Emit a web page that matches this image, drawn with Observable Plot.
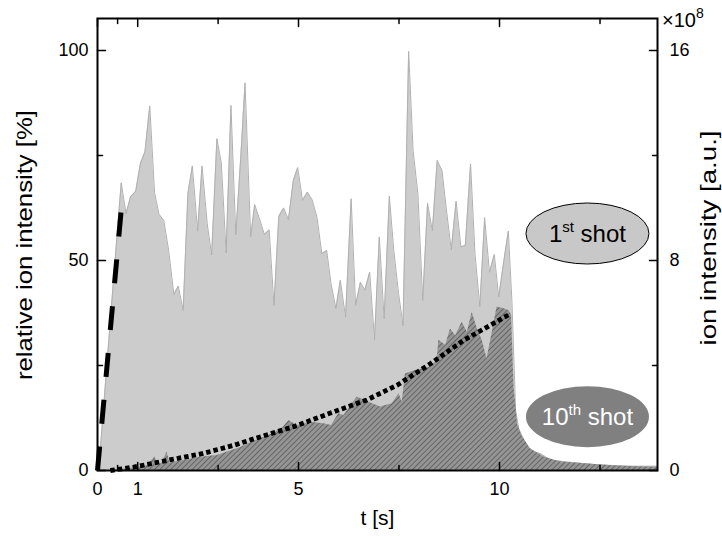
<!DOCTYPE html>
<html><head><meta charset="utf-8">
<script src="https://cdn.jsdelivr.net/npm/d3@7"></script>
<script src="https://cdn.jsdelivr.net/npm/@observablehq/plot@0.6"></script>
<style>body{margin:0;background:#fff}#chart{width:722px;height:536px}</style>
</head><body><div id="chart"></div>
<script>
// ---- data ----
const shot1T = [0, 0.07, 0.33, 0.59, 0.71, 0.82, 0.95, 1.07, 1.18, 1.30, 1.42, 1.53, 1.65, 1.77, 1.90, 2.01, 2.13, 2.25, 2.36, 2.49, 2.60, 2.73, 2.84, 2.97, 3.08, 3.20, 3.32, 3.44, 3.56, 3.67, 3.81, 3.91, 4.03, 4.15, 4.27, 4.39, 4.51, 4.63, 4.75, 4.87, 4.98, 5.10, 5.22, 5.34, 5.46, 5.58, 5.70, 5.81, 5.93, 6.04, 6.17, 6.31, 6.42, 6.54, 6.65, 6.77, 6.89, 7.01, 7.13, 7.26, 7.37, 7.49, 7.60, 7.74, 7.85, 7.97, 8.09, 8.21, 8.33, 8.45, 8.57, 8.68, 8.80, 8.92, 9.04, 9.15, 9.28, 9.39, 9.51, 9.63, 9.75, 9.87, 9.98, 10.11, 10.22, 10.31, 10.40, 10.48, 10.69, 10.85, 11.02, 11.27, 11.68, 12.5, 13.3, 13.93];
const shot1V = [0, 5, 37, 68.5, 61.1, 65.1, 66.5, 73.2, 75.8, 86.8, 66.1, 61.0, 59.5, 52.4, 41.9, 43.9, 38.1, 66.0, 72.5, 57.0, 72.5, 58.7, 51.3, 79.0, 73.2, 51.8, 86.9, 56.1, 74, 92.3, 55.6, 63.3, 59.9, 56.2, 57.3, 39.3, 60.5, 62.5, 59.7, 69.0, 72.1, 64.3, 66.3, 64.4, 60.3, 51.6, 52.4, 44.4, 38.6, 45.3, 36.5, 64.7, 39.3, 44.8, 42.9, 47.2, 31.1, 55.6, 36.1, 65.3, 52.4, 42.1, 34.5, 99.8, 76.2, 65.9, 40.5, 63.6, 57.0, 73.8, 71.4, 62, 52.5, 64.1, 53.2, 53.6, 73.0, 51.6, 39.0, 60.2, 47.2, 51.4, 41.3, 50.0, 57.0, 40, 14.3, 9.9, 5.6, 4.5, 4.0, 2.5, 2.0, 1.3, 1.0, 1.0];

const shot10T = [0.40, 0.8, 1.0, 1.25, 1.43, 1.50, 1.60, 1.73, 1.80, 2.2, 2.6, 2.98, 3.56, 3.9, 4.3, 4.6, 4.76, 4.97, 5.3, 5.63, 5.82, 6.0, 6.13, 6.46, 6.63, 7.04, 7.33, 7.50, 7.58, 7.66, 7.91, 8.12, 8.28, 8.45, 8.49, 8.66, 8.78, 8.91, 9.07, 9.20, 9.32, 9.45, 9.57, 9.69, 9.82, 9.94, 10.11, 10.23, 10.30, 10.36, 10.45, 10.56, 10.77, 11.1, 11.52, 12.1, 13.0, 13.93];
const shot10V = [0, 0.5, 0.8, 1.2, 3.3, 1.5, 1.6, 4.4, 1.8, 2.5, 3.2, 3.6, 5.5, 7.0, 8.5, 10, 11.9, 10.7, 11.5, 11.1, 10.7, 13.5, 13.1, 17.5, 16.7, 15.1, 15.9, 18.3, 16.3, 23.0, 23.8, 24.2, 24.6, 26.2, 31.0, 29.8, 33.7, 32.1, 35.3, 32.9, 37.7, 33.7, 31.0, 26.6, 32.9, 38.9, 38.5, 38.1, 37, 20, 11, 8.2, 5.2, 3.2, 2.0, 1.6, 1.0, 0.7];

const dashT = [0, 0.59];
const dashV = [0, 62];

const dotT = [0.32, 0.9, 1.73, 2.6, 3.39, 3.81, 4.9, 6.0, 6.7, 7.45, 8.28, 9.11, 10.27];
const dotV = [0, 0.8, 2.4, 4.0, 6.0, 7.3, 10.5, 14.4, 16.8, 20.3, 25.4, 31.0, 37.3];

const xMajorTicks = [0, 1, 5, 10];
const xMinorTicks = [0.5, 3, 7.5, 12.5];
const yMajorTicks = [0, 50, 100];
const yMinorTicks = [25, 75];
const rightTickLabels = ["0", "8", "16"];
const rightExponent = "8";
const legendBase = ["1", "10"];
const legendSup = ["st", "th"];
const legendRest = [" shot", " shot"];
const xTitle = "t [s]";
const yTitle = "relative ion intensity [%]";
const y2Title = "ion intensity [a.u.]";

// ---- tables ----
const shot1 = shot1T.map((t, i) => ({t, v: shot1V[i]}));
const shot10 = shot10T.map((t, i) => ({t, v: shot10V[i]}));
const dashed = dashT.map((t, i) => ({t, v: dashV[i]}));
const dotted = dotT.map((t, i) => ({t, v: dotV[i]}));

const font = "'Liberation Sans', Arial, sans-serif";
const tickShape = {draw(ctx, l) { ctx.moveTo(0, 0); ctx.lineTo(0, -l); }};
const tk = (data, frameAnchor, rotate, length, ch) => Plot.vector(data, {
  [ch]: d => d, frameAnchor, rotate, length, anchor: "start", shape: tickShape,
  stroke: "black", strokeWidth: 1.5
});

function hatchDefs() {
  const svg = d3.create("svg:defs");
  const pat = svg.append("pattern").attr("id", "hatch10")
    .attr("patternUnits", "userSpaceOnUse").attr("width", 3.8).attr("height", 3.8)
    .attr("patternTransform", "rotate(45)");
  pat.append("rect").attr("width", 3.8).attr("height", 3.8).attr("fill", "#959595");
  pat.append("line").attr("x1", 0.5).attr("y1", 0).attr("x2", 0.5).attr("y2", 3.8)
    .attr("stroke", "#5e5e5e").attr("stroke-width", 0.9);
  return svg.node();
}

function annotations(index, scales, values, dim) {
  const g = d3.create("svg:g").attr("font-family", font);
  // legend ellipses (anchored in data space)
  const cx = scales.x(12.2);
  const cys = [scales.y(56.3), scales.y(12.7)];
  const fills = ["#c8c8c8", "#808080"];
  const strokes = ["black", "none"];
  const textFills = ["black", "white"];
  for (let i = 0; i < 2; ++i) {
    g.append("ellipse").attr("cx", cx).attr("cy", cys[i]).attr("rx", 61.5).attr("ry", 30.5)
      .attr("fill", fills[i]).attr("stroke", strokes[i]).attr("stroke-width", 1);
    const t = g.append("text").attr("x", cx).attr("y", cys[i] + 8.5)
      .attr("text-anchor", "middle").attr("font-size", 24).attr("fill", textFills[i]);
    t.append("tspan").text(legendBase[i]);
    t.append("tspan").attr("font-size", 15).attr("dy", -10).text(legendSup[i]);
    t.append("tspan").attr("dy", 10).text(legendRest[i]);
  }
  // ×10^8 exponent label of the right axis
  const ex = dim.width - dim.marginRight + 5;
  const et = g.append("text").attr("x", ex).attr("y", dim.marginTop + 9)
    .attr("text-anchor", "start").attr("font-size", 20).attr("fill", "black");
  et.append("tspan").text("×10");
  et.append("tspan").attr("font-size", 14).attr("dy", -9).text(rightExponent);

  // vertical axis titles (tall, narrow lettering as in the reference)
  const midY = (dim.marginTop + dim.height - dim.marginBottom) / 2;
  const vt = (txt, x, y, len) => g.append("text")
    .attr("transform", `translate(${x},${y}) rotate(-90)`)
    .attr("text-anchor", "middle").attr("dy", "0.35em")
    .attr("font-size", 22).attr("fill", "black")
    .attr("textLength", len).attr("lengthAdjust", "spacingAndGlyphs")
    .text(txt);
  vt(yTitle, dim.marginLeft - 73, midY + 1, 270);
  vt(y2Title, dim.width - dim.marginRight + 51, midY - 6, 215);
  return g.node();
}

const chart = Plot.plot({
  width: 722, height: 536,
  marginLeft: 97, marginRight: 65, marginTop: 18, marginBottom: 66,
  style: {fontFamily: font, fontSize: "18px", background: "white", color: "black"},
  x: {domain: [0, 13.93], axis: null},
  y: {domain: [0, 107.6], axis: null},
  marks: [
    hatchDefs,
    Plot.areaY(shot1, {x: "t", y: "v", fill: "#cccccc"}),
    Plot.lineY(shot1, {x: "t", y: "v", stroke: "#b0b0b0", strokeWidth: 1}),
    Plot.areaY(shot10, {x: "t", y: "v", fill: "url(#hatch10)"}),
    Plot.line(dashed, {x: "t", y: "v", stroke: "black", strokeWidth: 5, strokeDasharray: "24,23", strokeLinecap: "butt"}),
    Plot.line(dotted, {x: "t", y: "v", stroke: "black", strokeWidth: 4.8, strokeDasharray: "4.5,3", strokeLinecap: "butt"}),
    // inward ticks on all four sides
    tk(yMajorTicks, "left", 90, 8, "y"),
    tk(yMinorTicks, "left", 90, 5, "y"),
    tk(yMajorTicks, "right", -90, 8, "y"),
    tk(yMinorTicks, "right", -90, 5, "y"),
    tk(xMajorTicks, "bottom", 0, 8, "x"),
    tk(xMinorTicks, "bottom", 0, 5, "x"),
    tk(xMajorTicks, "top", 180, 8, "x"),
    tk(xMinorTicks, "top", 180, 5, "x"),
    Plot.frame({stroke: "black", strokeWidth: 2}),
    Plot.axisY(yMajorTicks, {anchor: "left", tickSize: 0, tickPadding: 9, fontSize: 18, label: null}),
    Plot.axisY(yMajorTicks, {anchor: "right", tickSize: 0, tickPadding: 12, fontSize: 18, label: null,
      tickFormat: d => rightTickLabels[yMajorTicks.indexOf(d)]}),
    Plot.axisX(xMajorTicks, {anchor: "bottom", tickSize: 0, tickPadding: 12, fontSize: 18, label: null}),
    Plot.text([xTitle], {text: d => d, frameAnchor: "bottom", textAnchor: "middle", dy: 54, fontSize: 21}),
    annotations
  ]
});
document.getElementById("chart").append(chart);
</script>
</body></html>
